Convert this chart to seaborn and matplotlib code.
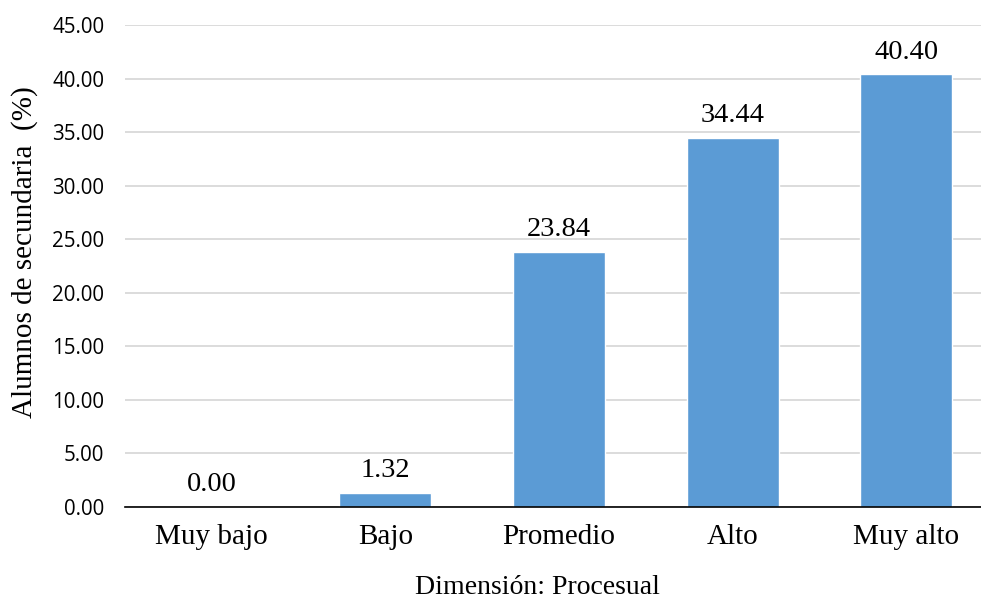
import pandas as pd
import seaborn as sns
import matplotlib.pyplot as plt

# Data
categorias = ['Muy bajo', 'Bajo', 'Promedio', 'Alto', 'Muy alto']
porcentajes = [0.00, 1.32, 23.84, 34.44, 40.40]
ticks_y = [0, 5, 10, 15, 20, 25, 30, 35, 40, 45]

df = pd.DataFrame({'Nivel': categorias, 'Porcentaje': porcentajes})

sns.set_style('white')
plt.rcParams['font.family'] = ['Liberation Serif', 'DejaVu Serif']
plt.rcParams['text.color'] = 'black'
plt.rcParams['xtick.color'] = 'black'
plt.rcParams['ytick.color'] = 'black'
plt.rcParams['axes.labelcolor'] = 'black'

fig = plt.figure(figsize=(9.81, 6.01), dpi=100)
ax = fig.add_axes([125 / 981, 94 / 601, 868 / 981, 482 / 601])

sns.barplot(x='Nivel', y='Porcentaje', data=df, color='#5B9BD5',
            saturation=1, width=0.53, ax=ax, zorder=3)

# Value labels on top of bars
ax.bar_label(ax.containers[0], fmt='%.2f', padding=7, fontsize=20.5,
             family='Liberation Serif', color='black')

ax.set_ylim(0, 45)
ax.set_yticks(ticks_y)
ax.set_yticklabels([f'{t:.2f}' for t in ticks_y], family='Open Sans',
                   fontsize=14.8)
ax.tick_params(axis='y', length=0, pad=15)
ax.tick_params(axis='x', length=0, pad=12, labelsize=21)

ax.yaxis.grid(True, color='#D9D9D9', linewidth=1.3, zorder=0)
ax.set_axisbelow(True)
for side in ['top', 'right', 'left']:
    ax.spines[side].set_visible(False)
ax.spines['bottom'].set_color('#000000')
ax.spines['bottom'].set_linewidth(1.2)
ax.spines['bottom'].set_zorder(4)

# Axis titles
ax.set_xlabel('Dimensión: Procesual', fontsize=20)
ax.xaxis.set_label_coords(0.4747, -0.142)
ax.set_ylabel('Alumnos de secundaria  (%)', fontsize=21)
ax.yaxis.set_label_coords(-0.1, 0.529)

fig.savefig('out.png', dpi=100)
